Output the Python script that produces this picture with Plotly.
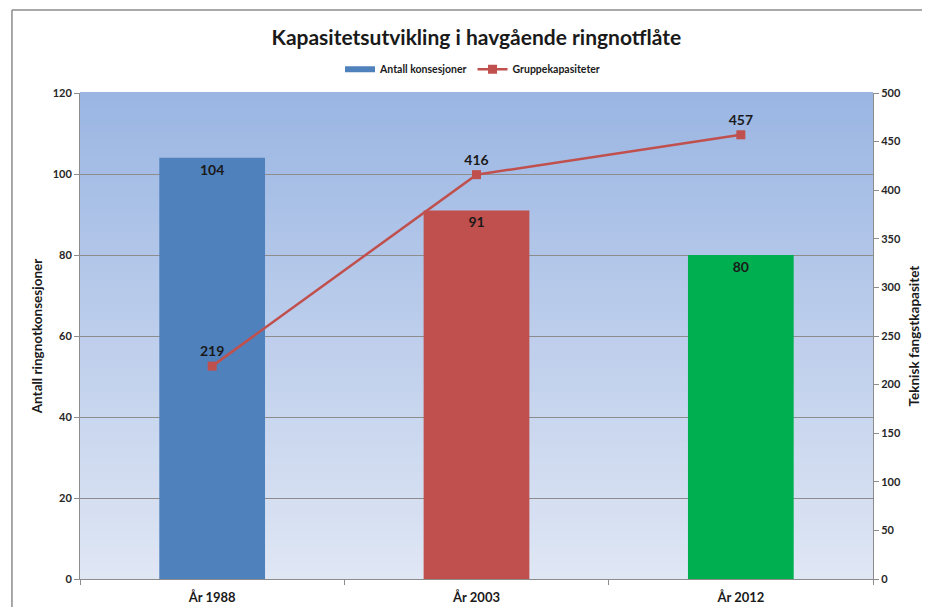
import plotly.graph_objects as go

categories = ["År 1988", "År 2003", "År 2012"]
konsesjoner = [104, 91, 80]
kapasitet = [219, 416, 457]
bar_colors = ["#4f81bd", "#c0504d", "#00b050"]
left_ticks = [0, 20, 40, 60, 80, 100, 120]
right_ticks = [0, 50, 100, 150, 200, 250, 300, 350, 400, 450, 500]

FONT = "Lato, 'Open Sans', sans-serif"

fig = go.Figure()

fig.add_trace(go.Bar(
    x=categories, y=konsesjoner, name="Antall konsesjoner",
    marker=dict(color=bar_colors, line=dict(width=0)),
    width=0.4,
    text=[str(v) for v in konsesjoner], textposition="inside",
    insidetextanchor="end",
    textfont=dict(family=FONT, size=14, color="#1a1a1a", weight="bold"),
    showlegend=False,
))
# legend proxy for the bar series (wide flat swatch)
fig.add_trace(go.Scatter(
    x=[None], y=[None], mode="lines", name="Antall konsesjoner",
    line=dict(color="#4f81bd", width=6),
))
fig.add_trace(go.Scatter(
    x=categories, y=kapasitet, name="Gruppekapasiteter", yaxis="y2",
    mode="lines+markers+text",
    line=dict(color="#c0504d", width=2.5),
    marker=dict(symbol="square", color="#c0504d", size=9),
    text=[str(v) for v in kapasitet], textposition="top center",
    textfont=dict(family=FONT, size=14, color="#1a1a1a", weight="bold"),
))

# vertical gradient background of the plot area
n = 60
top = (0x9b, 0xb6, 0xe3)
bot = (0xdf, 0xe6, 0xf4)
shapes = []
for i in range(n):
    t = i / (n - 1)
    c = tuple(round(bot[k] + (top[k] - bot[k]) * t) for k in range(3))
    shapes.append(dict(type="rect", xref="paper", yref="paper",
                       x0=0, x1=1, y0=i / n, y1=(i + 1) / n + 0.002,
                       fillcolor="rgb(%d,%d,%d)" % c, line=dict(width=0),
                       layer="below"))
# outer frame of the chart
shapes.append(dict(type="line", xref="paper", yref="paper",
                   x0=-0.0858, x1=-0.0858, y0=-0.2, y1=1.1708,
                   line=dict(color="#8c8c8c", width=1.5)))
shapes.append(dict(type="line", xref="paper", yref="paper",
                   x0=-0.0858, x1=1.2, y0=1.1708, y1=1.1708,
                   line=dict(color="#8c8c8c", width=1.5)))

axis_font = dict(family=FONT, size=11, color="#262626", weight="bold")
title_font = dict(family=FONT, size=13.5, color="#1a1a1a", weight="bold")

fig.update_layout(
    width=922, height=599,
    margin=dict(l=72, r=57, t=85, b=28, autoexpand=False),
    paper_bgcolor="white", plot_bgcolor="rgba(0,0,0,0)",
    shapes=shapes,
    title=dict(text="Kapasitetsutvikling i havgående ringnotflåte",
               x=0.508, xanchor="center", y=0.95, yanchor="middle",
               font=dict(family=FONT, size=21, color="#1a1a1a", weight="bold")),
    legend=dict(orientation="h", x=0.495, xanchor="center", y=1.049,
                yanchor="middle", bgcolor="rgba(0,0,0,0)",
                font=dict(family=FONT, size=10.5, color="#1a1a1a", weight="bold"),
                itemwidth=30, tracegroupgap=0),
    xaxis=dict(type="category", tickson="boundaries", ticks="outside",
               ticklen=5, tickcolor="#8c8c8c", showline=True,
               linecolor="#8c8c8c", showgrid=False, automargin=False,
               ticklabelstandoff=6,
               tickfont=dict(family=FONT, size=13, color="#1a1a1a", weight="bold")),
    yaxis=dict(range=[0, 120], tickvals=left_ticks, ticks="outside",
               ticklen=5, tickcolor="#8c8c8c", showline=True,
               linecolor="#8c8c8c", gridcolor="#8c8c8c", gridwidth=1,
               zeroline=False, tickfont=axis_font, automargin=False,
               title=dict(text="Antall ringnotkonsesjoner", standoff=6,
                          font=title_font)),
    yaxis2=dict(range=[0, 500], tickvals=right_ticks, overlaying="y",
                side="right", ticks="outside", ticklen=5, tickcolor="#8c8c8c",
                showline=True, linecolor="#8c8c8c", showgrid=False,
                zeroline=False, tickfont=axis_font, automargin=False,
                title=dict(text="Teknisk fangstkapasitet", standoff=9,
                           font=title_font)),
)

fig.write_html("out.html")
